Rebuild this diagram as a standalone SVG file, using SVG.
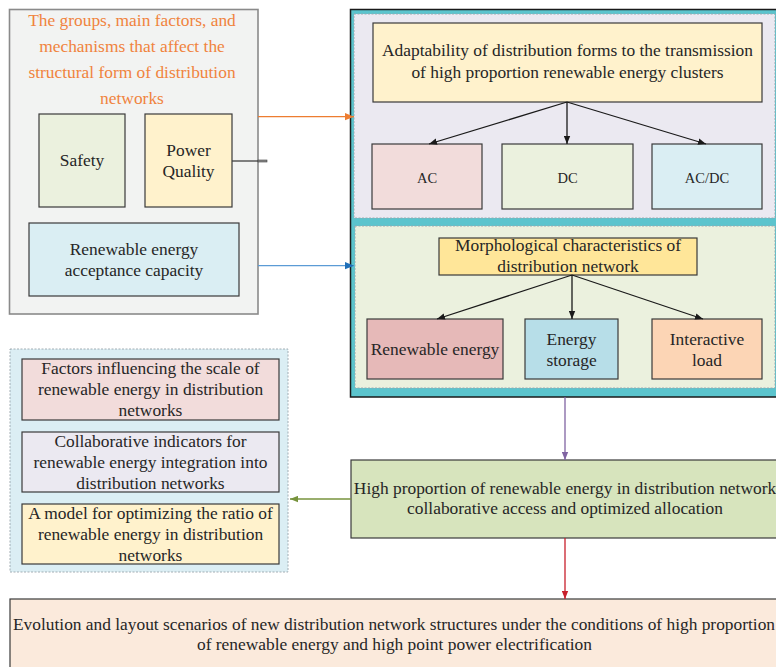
<svg xmlns="http://www.w3.org/2000/svg" width="776" height="667" viewBox="0 0 776 667">
<defs>
<style>
text{font-family:"Liberation Serif","Times New Roman","DejaVu Serif",serif;font-size:17.4px;fill:#262626;text-anchor:middle}
.t{fill:#f0833e}
.sm{font-size:14.5px}
.box{stroke:#3a3a3a;stroke-width:1.2}
.dash{stroke:#9aa5ad;stroke-width:0.9;stroke-dasharray:2 1.5}
.ln{fill:none;stroke-width:1.3}
</style>
<marker id="mk" viewBox="0 0 10 8" refX="10" refY="4" markerWidth="8" markerHeight="7" markerUnits="userSpaceOnUse" orient="auto"><path d="M0,0 L10,4 L0,8 Z" fill="#1a1a1a"/></marker>
<marker id="mo" viewBox="0 0 10 8" refX="10" refY="4" markerWidth="9" markerHeight="8" markerUnits="userSpaceOnUse" orient="auto"><path d="M0,0 L10,4 L0,8 Z" fill="#ed7d31"/></marker>
<marker id="mb" viewBox="0 0 10 8" refX="10" refY="4" markerWidth="9" markerHeight="8" markerUnits="userSpaceOnUse" orient="auto"><path d="M0,0 L10,4 L0,8 Z" fill="#1f6fb8"/></marker>
<marker id="mp" viewBox="0 0 10 8" refX="10" refY="4" markerWidth="8" markerHeight="7" markerUnits="userSpaceOnUse" orient="auto"><path d="M0,0 L10,4 L0,8 Z" fill="#8064a2"/></marker>
<marker id="mg" viewBox="0 0 10 8" refX="10" refY="4" markerWidth="8" markerHeight="7" markerUnits="userSpaceOnUse" orient="auto"><path d="M0,0 L10,4 L0,8 Z" fill="#77933c"/></marker>
<marker id="mr" viewBox="0 0 10 8" refX="10" refY="4" markerWidth="8" markerHeight="7" markerUnits="userSpaceOnUse" orient="auto"><path d="M0,0 L10,4 L0,8 Z" fill="#c8202c"/></marker>
</defs>
<rect width="776" height="667" fill="#ffffff"/>

<g id="factors-group">
<rect x="9.5" y="9.5" width="248.5" height="304.5" fill="#f2f3f2" stroke="#8a8a8a" stroke-width="1.6"/>
<text class="t" x="132" y="26">The groups, main factors, and</text>
<text class="t" x="132" y="52">mechanisms that affect the</text>
<text class="t" x="132" y="78">structural form of distribution</text>
<text class="t" x="132" y="104">networks</text>
</g>
<g id="safety">
<rect class="box" x="39" y="114" width="86" height="93" fill="#ebf1de"/>
<text x="82" y="166">Safety</text>
</g>
<g id="power-quality">
<rect class="box" x="145" y="114" width="87" height="93" fill="#fff2cc"/>
<text x="188.5" y="156">Power</text>
<text x="188.5" y="177">Quality</text>
</g>
<g id="acceptance-capacity">
<rect class="box" x="29" y="223" width="210" height="73" fill="#daeef3"/>
<text x="134" y="255">Renewable energy</text>
<text x="134" y="276">acceptance capacity</text>
</g>

<g id="right-panel">
<rect x="350.5" y="9.5" width="430" height="387.5" fill="#5bc4cd" stroke="#1a1a1a" stroke-width="1.5"/>
</g>
<g id="forms-panel">
<rect class="dash" x="354" y="14" width="421" height="204" fill="#ebe9f1"/>
</g>
<g id="adaptability">
<rect class="box" x="373" y="23" width="389" height="79" fill="#fff2cc"/>
<text x="567.5" y="56">Adaptability of distribution forms to the transmission</text>
<text x="567.5" y="78">of high proportion renewable energy clusters</text>
</g>
<g id="ac">
<rect class="box" x="372" y="144" width="110" height="65" fill="#f2dcdb"/>
<text class="sm" x="427" y="183">AC</text>
</g>
<g id="dc">
<rect class="box" x="502" y="144" width="131" height="65" fill="#ebf1de"/>
<text class="sm" x="567.5" y="183">DC</text>
</g>
<g id="acdc">
<rect class="box" x="652" y="144" width="110" height="65" fill="#daeef3"/>
<text class="sm" x="707" y="183">AC/DC</text>
</g>

<g id="morph-panel">
<rect class="dash" x="355" y="226" width="420" height="162" fill="#ebf1de"/>
</g>
<g id="morphological">
<rect class="box" x="439" y="238" width="258" height="37" fill="#ffe699"/>
<text x="568" y="251">Morphological characteristics of</text>
<text x="568" y="272">distribution network</text>
</g>
<g id="renewable-energy">
<rect class="box" x="367" y="319" width="136" height="60" fill="#e6b9b8"/>
<text x="435" y="355">Renewable energy</text>
</g>
<g id="energy-storage">
<rect class="box" x="525" y="319" width="93" height="60" fill="#b7dee8"/>
<text x="571.5" y="345">Energy</text>
<text x="571.5" y="366">storage</text>
</g>
<g id="interactive-load">
<rect class="box" x="652" y="319" width="110" height="60" fill="#fcd5b5"/>
<text x="707" y="345">Interactive</text>
<text x="707" y="366">load</text>
</g>

<g id="scale-group">
<rect class="dash" x="10" y="349" width="278" height="223" fill="#dbeef4"/>
</g>
<g id="scale-factors">
<rect class="box" x="22" y="359" width="257" height="61" fill="#f2dcdb"/>
<text x="150.5" y="374">Factors influencing the scale of</text>
<text x="150.5" y="395">renewable energy in distribution</text>
<text x="150.5" y="416">networks</text>
</g>
<g id="collab-indicators">
<rect class="box" x="22" y="432" width="257" height="60" fill="#ebe9f1"/>
<text x="150.5" y="447">Collaborative indicators for</text>
<text x="150.5" y="468">renewable energy integration into</text>
<text x="150.5" y="489">distribution networks</text>
</g>
<g id="ratio-model">
<rect class="box" x="22" y="504" width="257" height="60" fill="#fff2cc"/>
<text x="150.5" y="519">A model for optimizing the ratio of</text>
<text x="150.5" y="540">renewable energy in distribution</text>
<text x="150.5" y="561">networks</text>
</g>

<g id="collab-access">
<rect class="box" x="351" y="460" width="430" height="78" fill="#d7e4bd"/>
<text x="565" y="494">High proportion of renewable energy in distribution network</text>
<text x="565" y="514">collaborative access and optimized allocation</text>
</g>

<g id="evolution">
<rect class="box" x="10" y="599" width="770" height="80" fill="#fbeadc"/>
<text x="394" y="630" textLength="762" lengthAdjust="spacingAndGlyphs">Evolution and layout scenarios of new distribution network structures under the conditions of high proportion</text>
<text x="394.5" y="650" textLength="395" lengthAdjust="spacingAndGlyphs">of renewable energy and high point power electrification</text>
</g>

<g id="connectors">
<path class="ln" d="M258,116.7 H354" stroke="#ed7d31" marker-end="url(#mo)"/>
<path class="ln" d="M258,265.7 H354" stroke="#5b9bd5" marker-end="url(#mb)"/>
<path class="ln" d="M232,161 H258" stroke="#404040"/>
<rect x="258" y="160" width="9" height="2" fill="#8a8a8a" stroke="#404040" stroke-width="0.6"/>
<path class="ln" d="M567,102 L429,144" stroke="#1a1a1a" marker-end="url(#mk)"/>
<path class="ln" d="M567,102 V144" stroke="#1a1a1a" marker-end="url(#mk)"/>
<path class="ln" d="M567,102 L706,144" stroke="#1a1a1a" marker-end="url(#mk)"/>
<path class="ln" d="M572,275 L437,319" stroke="#1a1a1a" marker-end="url(#mk)"/>
<path class="ln" d="M572,275 V319" stroke="#1a1a1a" marker-end="url(#mk)"/>
<path class="ln" d="M572,275 L703,319" stroke="#1a1a1a" marker-end="url(#mk)"/>
<path class="ln" d="M565,397 V460" stroke="#8064a2" marker-end="url(#mp)"/>
<path class="ln" d="M351,499 H290" stroke="#77933c" marker-end="url(#mg)"/>
<path class="ln" d="M565,538 V599" stroke="#c8202c" marker-end="url(#mr)"/>
</g>
</svg>
